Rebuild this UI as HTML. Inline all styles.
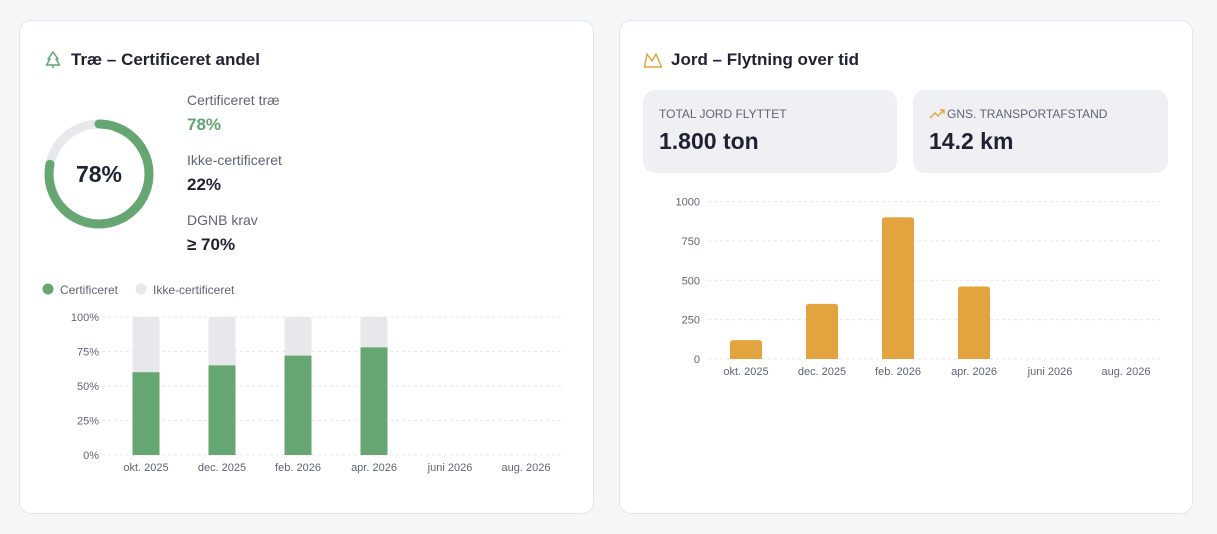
<!DOCTYPE html>
<html><head><meta charset="utf-8">
<style>
body{margin:0;width:1217px;height:534px;background:#f5f6f8;font-family:"Liberation Sans",sans-serif;position:relative;overflow:hidden;color:#1f2233}
.card{position:absolute;top:20px;height:494px;background:#fff;border:1px solid #e3e5ea;border-radius:12px;box-sizing:border-box}
.title{position:absolute;top:50px;font-size:17px;font-weight:bold;color:#1f2233}
.lbl{position:absolute;font-size:14px;color:#5f6475}
.val{position:absolute;font-size:17px;font-weight:bold;color:#1f2233}
.kpi{position:absolute;top:90px;height:83px;background:#eff0f4;border-radius:12px}
.kpi .k{position:absolute;left:16px;top:17px;font-size:12px;color:#5f6475}
.kpi .v{position:absolute;left:16px;top:38px;font-size:23px;font-weight:bold;color:#1f2233}
svg text{font-family:"Liberation Sans",sans-serif}
</style></head><body>
<div class="card" style="left:19px;width:575px"></div>
<div class="card" style="left:619px;width:574px"></div>

<svg style="position:absolute;left:45px;top:51px" width="16" height="18" viewBox="0 0 16 18"><path d="M8 1 L3 8 H5 L1.5 14 H14.5 L11 8 H13 Z M8 14 V17" fill="none" stroke="#5fa472" stroke-width="1.5" stroke-linejoin="round"/></svg>
<div class="title" style="left:71px">Træ – Certificeret andel</div>

<svg style="position:absolute;left:40px;top:115px" width="120" height="120">
<circle cx="59" cy="59" r="50" fill="none" stroke="#e7e8ec" stroke-width="9"/>
<circle id="donutArc" cx="59" cy="59" r="50" fill="none" stroke="#65a673" stroke-width="9" stroke-linecap="round" transform="rotate(-90 59 59)"/>
<text x="59" y="67" text-anchor="middle" font-size="23" font-weight="bold" fill="#1f2233">78%</text>
</svg>

<div class="lbl" style="left:187px;top:92px">Certificeret træ</div>
<div class="val" style="left:187px;top:115px;color:#5fa472">78%</div>
<div class="lbl" style="left:187px;top:152px">Ikke-certificeret</div>
<div class="val" style="left:187px;top:175px">22%</div>
<div class="lbl" style="left:187px;top:212px">DGNB krav</div>
<div class="val" style="left:187px;top:235px">≥ 70%</div>

<svg id="left" style="position:absolute;left:0;top:270px" width="600" height="220"></svg>

<svg style="position:absolute;left:643px;top:51px" width="20" height="18" viewBox="0 0 20 18"><path d="M1.5 16 L4 3 L9 10 L13 3 L18.5 16 Z" fill="none" stroke="#e3a33e" stroke-width="1.5" stroke-linejoin="round"/></svg>
<div class="title" style="left:671px">Jord – Flytning over tid</div>

<div class="kpi" style="left:643px;width:254px"><div class="k">TOTAL JORD FLYTTET</div><div class="v">1.800 ton</div></div>
<div class="kpi" style="left:913px;width:255px">
<svg style="position:absolute;left:16px;top:19px" width="16" height="10" viewBox="0 0 16 10"><path d="M1 9 L6 4 L9 7 L15 1 M11 1 H15 V5" fill="none" stroke="#e3a33e" stroke-width="1.4"/></svg>
<div class="k" style="left:34px">GNS. TRANSPORTAFSTAND</div><div class="v">14.2 km</div></div>

<svg id="right" style="position:absolute;left:600px;top:185px" width="600" height="200"></svg>

<script>
const certShare = 78;
const woodCats = ["okt. 2025","dec. 2025","feb. 2026","apr. 2026","juni 2026","aug. 2026"];
const woodCert = [60,65,72,78,null,null];
const woodTicks = [0,25,50,75,100];
const soilCats = ["okt. 2025","dec. 2025","feb. 2026","apr. 2026","juni 2026","aug. 2026"];
const soilVals = [120,350,900,460,null,null];
const soilTicks = [0,250,500,750,1000];

const NS="http://www.w3.org/2000/svg";
function mk(p,t,a){const e=document.createElementNS(NS,t);for(const k in a)e.setAttribute(k,a[k]);p.appendChild(e);return e;}

const arc=document.getElementById('donutArc');
const C=2*Math.PI*50;
arc.setAttribute('stroke-dasharray',(C*certShare/100)+' '+C);

// left chart
const L=document.getElementById('left');
// legend
let g=mk(L,'circle',{cx:48,cy:19,r:5.5,fill:'#65a673'});

let t=mk(L,'text',{x:60,y:24,'font-size':12,fill:'#5f6475'});t.textContent='Certificeret';

g=mk(L,'circle',{cx:141,cy:19,r:5.5,fill:'#e7e8ec'});

t=mk(L,'text',{x:153,y:24,'font-size':12,fill:'#5f6475'});t.textContent='Ikke-certificeret';

const ly=v=>185-v*1.38, lx=i=>146+i*76;
woodTicks.forEach(v=>{
  const ln=mk(L,'line',{x1:102,x2:562,y1:ly(v),y2:ly(v),stroke:'#e6e7eb','stroke-dasharray':'3 3'});
  
  const tx=mk(L,'text',{x:99,y:ly(v)+4,'text-anchor':'end','font-size':11,fill:'#5f6475'});tx.textContent=v+'%';
  
});
woodCats.forEach((c,i)=>{
  const tx=mk(L,'text',{x:lx(i),y:201,'text-anchor':'middle','font-size':11,fill:'#5f6475'});tx.textContent=c;
  
  const v=woodCert[i]; if(v==null)return;
  const bg=mk(L,'path',{d:`M${lx(i)-13.5},${ly(v)} V${ly(100)+3} q0,-3 3,-3 h21 q3,0 3,3 V${ly(v)} Z`,fill:'#e7e8ec'});
  
  const b=mk(L,'rect',{x:lx(i)-13.5,y:ly(v),width:27,height:ly(0)-ly(v),fill:'#65a673'});
  
});

// right chart
const R=document.getElementById('right');
const ry=v=>174-v*0.1575, rx=i=>146+i*76;
soilTicks.forEach(v=>{
  const ln=mk(R,'line',{x1:108,x2:560,y1:ry(v),y2:ry(v),stroke:'#e6e7eb','stroke-dasharray':'3 3'});
  
  const tx=mk(R,'text',{x:100,y:ry(v)+4,'text-anchor':'end','font-size':11,fill:'#5f6475'});tx.textContent=v;
  
});
soilCats.forEach((c,i)=>{
  const tx=mk(R,'text',{x:rx(i),y:190,'text-anchor':'middle','font-size':11,fill:'#5f6475'});tx.textContent=c;
  
  const v=soilVals[i]; if(v==null)return;
  const y=ry(v),x=rx(i)-16;
  const b=mk(R,'path',{d:`M${x},${ry(0)} V${y+3} q0,-3 3,-3 h26 q3,0 3,3 V${ry(0)} Z`,fill:'#e3a33e'});
  
});
</script>
</body></html>
